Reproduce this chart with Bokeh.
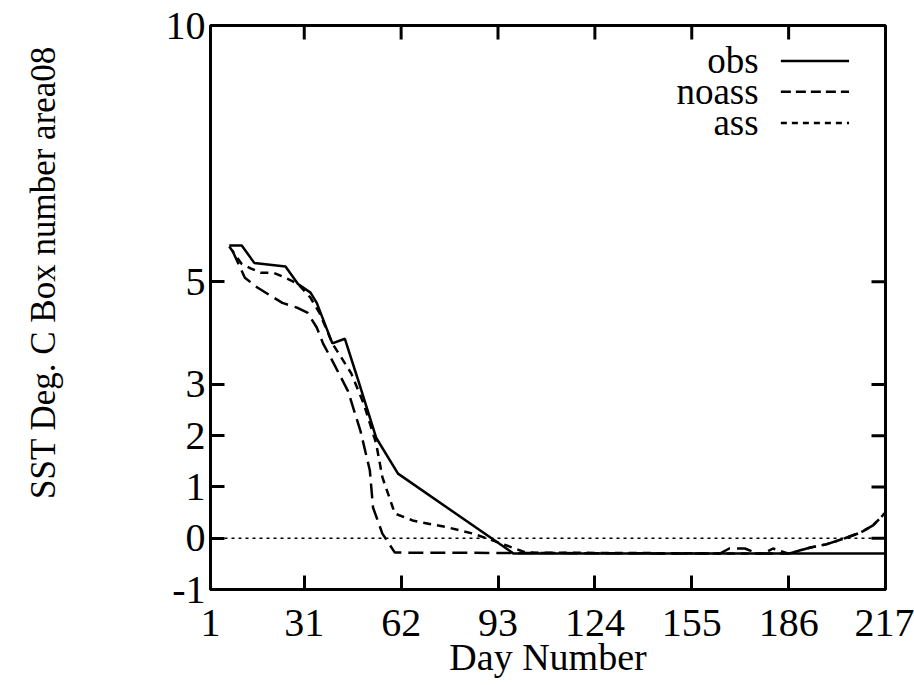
from bokeh.plotting import figure
from bokeh.models import FixedTicker, Range1d, Label
from bokeh.embed import file_html
from bokeh.resources import INLINE

x_ticks = [1, 31, 62, 93, 124, 155, 186, 217]
y_ticks = [-1, 0, 1, 2, 3, 5, 10]

obs_days = [7, 11, 15, 25, 29, 33, 35, 40, 44, 48, 54, 61, 98, 217]
obs_vals = [5.71, 5.71, 5.37, 5.30, 4.96, 4.79, 4.59, 3.80, 3.89, 3.13, 1.96, 1.26, -0.30, -0.30]

noass_days = [8, 12, 16, 24, 29, 32, 35, 37, 40, 45, 49, 52, 53, 56, 60, 164, 167, 172, 176,
              186, 193, 198, 204, 209, 213, 217]
noass_vals = [5.61, 5.08, 4.89, 4.59, 4.49, 4.40, 4.11, 3.80, 3.46, 2.87, 2.09, 1.32, 0.60, 0.09,
              -0.28, -0.30, -0.20, -0.20, -0.30, -0.30, -0.18, -0.12, 0.0, 0.11, 0.25, 0.50]

ass_days = [7, 11, 14, 17, 21, 25, 29, 33, 36, 40, 46, 50, 54, 56, 60, 66, 77, 85, 93, 102,
            178, 181, 186, 193, 198, 204, 209, 213, 217]
ass_vals = [5.69, 5.35, 5.26, 5.18, 5.18, 5.08, 4.96, 4.69, 4.38, 3.80, 3.22, 2.63, 1.85, 1.19,
            0.48, 0.34, 0.21, 0.09, -0.08, -0.28, -0.30, -0.20, -0.30, -0.18, -0.12, 0.0, 0.11,
            0.25, 0.50]

zero_days = [1, 217]
zero_vals = [0, 0]

legend_labels = ["obs", "noass", "ass"]

FONT = "Liberation Serif"
FS = "40px"

W, H = 914, 685
BL, BR, BT, BB = 210, 29, 25, 96
xs, xe, ys, ye = 1, 217, -1, 10
fw, fh = W - BL - BR, H - BT - BB
TICK = 14
tx = TICK * (xe - xs) / fw
ty = TICK * (ye - ys) / fh

p = figure(width=W, height=H, x_range=Range1d(xs, xe), y_range=Range1d(ys, ye),
           output_backend="svg", toolbar_location=None,
           min_border_left=BL, min_border_right=BR, min_border_top=BT, min_border_bottom=BB)
p.xgrid.visible = False
p.ygrid.visible = False
p.outline_line_color = "black"
p.outline_line_width = 3
p.background_fill_color = "white"
p.border_fill_color = "white"

for ax in (p.xaxis[0], p.yaxis[0]):
    ax.major_tick_in = TICK
    ax.major_tick_out = 0
    ax.minor_tick_in = 0
    ax.minor_tick_out = 0
    ax.axis_line_width = 3
    ax.major_tick_line_width = 3
    ax.major_label_text_font = FONT
    ax.major_label_text_font_size = FS
    ax.major_label_text_color = "black"
    ax.axis_label_text_font = FONT
    ax.axis_label_text_font_style = "normal"
    ax.axis_label_text_color = "black"

p.xaxis[0].ticker = FixedTicker(ticks=x_ticks)
p.yaxis[0].ticker = FixedTicker(ticks=y_ticks)
p.yaxis[0].major_label_overrides = {t: str(t) for t in y_ticks}
p.xaxis[0].axis_label = "Day Number"
p.xaxis[0].axis_label_text_font_size = "38px"
p.xaxis[0].major_label_standoff = 20
p.xaxis[0].axis_label_standoff = -3
p.yaxis[0].major_label_standoff = 5
# leading no-break spaces lift the title so it sits a little above the frame's middle
p.yaxis[0].axis_label = "\u00a0" * 8 + "SST Deg. C Box number area08"
p.yaxis[0].axis_label_text_font_size = "35px"
p.yaxis[0].axis_label_standoff = 100

# mirrored ticks on top and right edges
p.segment(x0=x_ticks, y0=[ye] * len(x_ticks), x1=x_ticks, y1=[ye - ty] * len(x_ticks),
          line_color="black", line_width=3)
p.segment(x0=[xe] * len(y_ticks), y0=y_ticks, x1=[xe - tx] * len(y_ticks), y1=y_ticks,
          line_color="black", line_width=3)

p.line(zero_days, zero_vals, line_color="black", line_width=1.5, line_dash="3 4")
p.line(obs_days, obs_vals, line_color="black", line_width=2.5)
p.line(noass_days, noass_vals, line_color="black", line_width=2.5, line_dash="15 7")
p.line(ass_days, ass_vals, line_color="black", line_width=2.5, line_dash="8 6")

# legend (label on the left, sample on the right)
lx_text = xs + 0.812 * (xe - xs)
lx0 = xs + 0.845 * (xe - xs)
lx1 = xs + 0.946 * (xe - xs)
rows = [9.31, 8.71, 8.10]
dashes = ["solid", "10 5", "6 5"]
for lab, yy, d in zip(legend_labels, rows, dashes):
    p.add_layout(Label(x=lx_text, y=yy, text=lab, text_font=FONT, text_font_size="37px",
                       text_align="right", text_baseline="middle", text_color="black"))
    p.line([lx0, lx1], [yy, yy], line_color="black", line_width=2.5, line_dash=d)

open("out.html", "w").write(file_html(p, INLINE))
